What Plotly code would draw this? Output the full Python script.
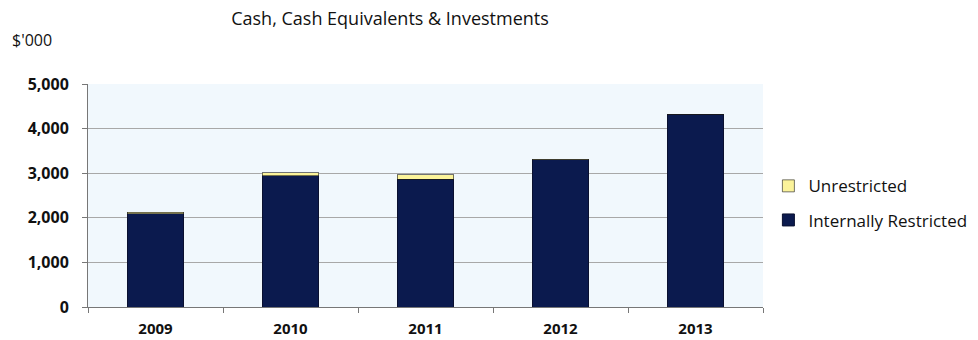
import plotly.graph_objects as go

years = ["2009", "2010", "2011", "2012", "2013"]
internally_restricted = [2090, 2940, 2860, 3300, 4320]
unrestricted = [40, 70, 110, 10, 0]
y_ticks = [0, 1000, 2000, 3000, 4000, 5000]
y_tick_labels = ["0", "1,000", "2,000", "3,000", "4,000", "5,000"]

font_family = "Open Sans, Noto Sans, Liberation Sans, sans-serif"

fig = go.Figure()
fig.add_trace(go.Bar(
    x=years, y=internally_restricted, name="Internally Restricted",
    marker=dict(color="#0b1a4e", line=dict(color="#0a1030", width=1)),
    legendrank=2, legendgroup="b",
))
fig.add_trace(go.Bar(
    x=years, y=unrestricted, name="Unrestricted",
    marker=dict(color="#fbf39a", line=dict(color="#1a1a1a", width=0.6)),
    legendrank=1, legendgroup="a",
))

fig.update_layout(
    width=978, height=340,
    barmode="stack", bargap=0.585,
    paper_bgcolor="white", plot_bgcolor="#f1f8fd",
    margin=dict(l=88, r=215, t=84, b=33, autoexpand=False),
    font=dict(family=font_family, color="#111111"),
    title=dict(text="Cash, Cash Equivalents & Investments", x=390/978, xanchor="center",
               y=1 - 19/340, yanchor="middle", font=dict(size=18, color="#111111")),
    showlegend=True,
    legend=dict(x=1.008, xanchor="left", y=0.622, yanchor="top",
                traceorder="grouped", itemwidth=30, tracegroupgap=9,
                font=dict(size=17, color="#111111"), bgcolor="rgba(0,0,0,0)"),
    annotations=[dict(text="$'000", x=(10-88)/675, xref="paper", xanchor="left",
                      y=(307-40)/223, yref="paper", yanchor="middle",
                      showarrow=False, font=dict(size=16, color="#111111"))],
)

fig.update_xaxes(showline=True, linecolor="#777777", linewidth=1,
                 ticks="outside", ticklen=5, tickcolor="#777777",
                 tickson="boundaries", tickfont=dict(size=15, color="#111111", weight="bold"),
                 ticklabelstandoff=8, showgrid=False, mirror=False, automargin=False)
fig.update_yaxes(range=[0, 5000], tickvals=y_ticks, ticktext=y_tick_labels,
                 showline=True, linecolor="#777777", linewidth=1,
                 ticks="outside", ticklen=5, tickcolor="#777777",
                 showgrid=True, gridcolor="#a8a8a8", gridwidth=1,
                 tickfont=dict(size=16, color="#111111", weight="bold"),
                 ticklabelstandoff=10, zeroline=False, automargin=False)

fig.write_html("out.html")
